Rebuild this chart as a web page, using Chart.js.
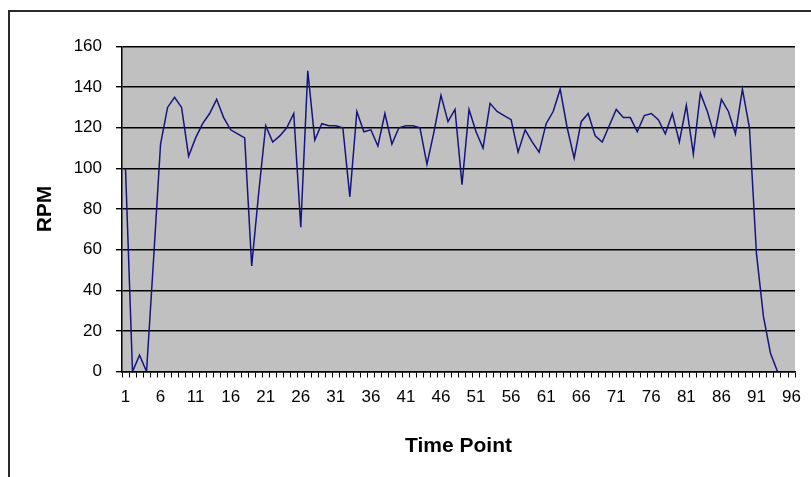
<!DOCTYPE html>
<html>
<head>
<meta charset="utf-8">
<script src="https://cdn.jsdelivr.net/npm/chart.js@4.4.1/dist/chart.umd.min.js"></script>
<style>
html,body{margin:0;padding:0;background:#fff;overflow:hidden;}
canvas{display:block;}
</style>
</head>
<body>
<canvas id="c" width="811" height="477"></canvas>
<script>
const timePoints = [1,2,3,4,5,6,7,8,9,10,11,12,13,14,15,16,17,18,19,20,
  21,22,23,24,25,26,27,28,29,30,31,32,33,34,35,36,37,38,39,40,
  41,42,43,44,45,46,47,48,49,50,51,52,53,54,55,56,57,58,59,60,
  61,62,63,64,65,66,67,68,69,70,71,72,73,74,75,76,77,78,79,80,
  81,82,83,84,85,86,87,88,89,90,91,92,93,94,95,96];

const rpmValues = [100,0,8,0,55,112,130,135,130,106,
  115,122,127,134,125,119,117,115,52,88,
  121,113,116,120,127,71,148,114,122,121,
  121,120,86,128,118,119,111,127,112,120,
  121,121,120,102,118,136,123,129,92,129,
  118,110,132,128,126,124,108,119,113,108,
  122,128,139,120,105,123,127,116,113,121,
  129,125,125,118,126,127,124,117,127,113,
  131,107,137,128,116,134,128,117,139,120,
  58,27,9,0];

const xTickLabels = ['1','6','11','16','21','26','31','36','41','46',
  '51','56','61','66','71','76','81','86','91','96'];
const yTickValues = [0,20,40,60,80,100,120,140,160];

const xTitle = 'Time Point';
const yTitle = 'RPM';

const FONT = "'Liberation Sans', Arial, sans-serif";

const framePlugin = {
  id: 'frame',
  beforeDraw(chart) {
    const {ctx, chartArea: a} = chart;
    ctx.save();
    ctx.fillStyle = '#ffffff';
    ctx.fillRect(0, 0, chart.width, chart.height);
    ctx.fillStyle = '#c0c0c0';
    ctx.fillRect(a.left, a.top, a.right - a.left, a.bottom - a.top);
    ctx.strokeStyle = '#2a2a2a';
    ctx.lineWidth = 2;
    ctx.strokeRect(9, 11, chart.width + 40, chart.height + 40);
    ctx.restore();
  }
};

new Chart(document.getElementById('c'), {
  type: 'line',
  data: {
    labels: timePoints.map(String),
    datasets: [{
      label: yTitle,
      data: rpmValues,
      borderColor: '#14147f',
      borderWidth: 1.5,
      pointRadius: 0,
      tension: 0,
      fill: false
    }]
  },
  options: {
    responsive: false,
    animation: false,
    devicePixelRatio: 1,
    layout: { padding: { left: 0, top: 46.5, right: 6, bottom: 0 } },
    plugins: { legend: { display: false }, tooltip: { enabled: false } },
    scales: {
      x: {
        type: 'category',
        offset: true,
        afterFit(scale) { scale.height = 477 - 371.5; },
        grid: { display: true, offset: true, drawOnChartArea: false, drawTicks: true, tickLength: 6, color: '#000', lineWidth: 1 },
        border: { display: true, color: '#000', width: 1.5 },
        ticks: {
          autoSkip: false,
          maxRotation: 0,
          minRotation: 0,
          padding: 10,
          color: '#000',
          font: { family: FONT, size: 17 },
          callback(value) {
            const lab = this.getLabelForValue(value);
            return xTickLabels.includes(lab) ? lab : '';
          }
        },
        title: {
          display: true,
          text: xTitle,
          color: '#000',
          font: { family: FONT, size: 21, weight: 'bold' },
          padding: { top: 0, bottom: 18 }
        }
      },
      y: {
        min: yTickValues[0],
        max: yTickValues[yTickValues.length - 1],
        afterFit(scale) { scale.width = 122; },
        afterBuildTicks(scale) { scale.ticks = yTickValues.map(v => ({ value: v })); },
        grid: { display: true, drawOnChartArea: true, drawTicks: true, tickLength: 6, color: '#000', lineWidth: 1.4 },
        border: { display: true, color: '#000', width: 1.5 },
        ticks: {
          padding: 14,
          color: '#000',
          font: { family: FONT, size: 17 }
        },
        title: {
          display: true,
          text: yTitle,
          color: '#000',
          font: { family: FONT, size: 21, weight: 'bold' },
          padding: { top: 33, bottom: 0 }
        }
      }
    }
  },
  plugins: [framePlugin]
});
</script>
</body>
</html>
